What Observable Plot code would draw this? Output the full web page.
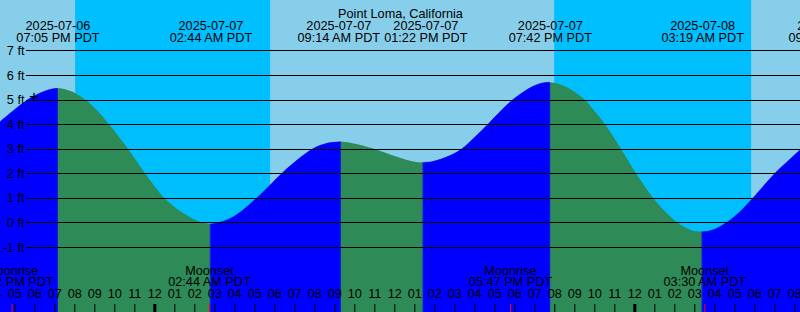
<!DOCTYPE html>
<html><head><meta charset="utf-8">
<script src="https://cdn.jsdelivr.net/npm/d3@7"></script>
<script src="https://cdn.jsdelivr.net/npm/@observablehq/plot@0.6"></script>
<style>html,body{margin:0;padding:0;background:#87ceeb;overflow:hidden}</style>
</head><body><div id="chart"></div>
<script>
// ---- data ----
const title = "Point Loma, California";
const chartStart = "2025-07-06T16:12:36";
const chartEnd = "2025-07-08T08:12:36";
const tideDay = "2025-07-07T00:00"; // tideHours are relative to this local midnight (PDT)
const tideHours = [-7.79, -7.09, -6.39, -5.69, -5.19, -4.917, -4.64, -4.04, -3.54, -2.94, -2.34, -1.39, -0.54, 0.36, 0.86, 1.36, 1.86, 2.21, 2.46, 2.733, 3.01, 3.86, 5.06, 6.31, 7.01, 7.86, 8.56, 8.91, 9.233, 9.56, 10.56, 11.41, 12.21, 12.81, 13.367, 13.86, 14.71, 15.31, 15.96, 16.61, 17.21, 17.86, 18.86, 19.36, 19.7, 20.01, 20.56, 21.36, 21.81, 22.46, 23.26, 24.01, 24.86, 25.46, 26.06, 26.71, 27.01, 27.317, 27.61, 28.01, 28.56, 29.21, 29.81, 30.96, 31.61, 32.21];
const tideFeet = [4.10, 4.57, 5.00, 5.30, 5.43, 5.46, 5.44, 5.27, 5.00, 4.57, 4.00, 3.00, 2.00, 1.05, 0.68, 0.38, 0.15, 0.03, -0.03, -0.07, -0.04, 0.22, 1.00, 2.00, 2.50, 3.00, 3.22, 3.26, 3.28, 3.26, 3.08, 2.86, 2.63, 2.49, 2.44, 2.48, 2.72, 3.00, 3.48, 4.00, 4.50, 5.00, 5.54, 5.68, 5.70, 5.67, 5.50, 5.05, 4.66, 4.00, 3.00, 2.00, 1.00, 0.45, 0.00, -0.30, -0.36, -0.38, -0.36, -0.26, 0.00, 0.43, 0.95, 2.00, 2.50, 2.95];
const tideEventTimes = ["2025-07-06T19:05", "2025-07-07T02:44", "2025-07-07T09:14", "2025-07-07T13:22", "2025-07-07T19:42", "2025-07-08T03:19", "2025-07-08T09:40"];
const nightStarts = ["2025-07-06T19:58", "2025-07-07T19:55"];
const nightEnds = ["2025-07-07T05:43", "2025-07-08T05:46"];
const moonEventNames = ["Moonrise", "Moonset", "Moonrise", "Moonset"];
const moonEventTimes = ["2025-07-06T16:52", "2025-07-07T02:44", "2025-07-07T17:47", "2025-07-08T03:30"];
const gridFeet = [-1, 0, 1, 2, 3, 4, 5, 6, 7];
const plusTime = "2025-07-06T17:53";
const plusFeet = 5.16;

// ---- build ----
const toDate = s => new Date(s + "Z");
const base = toDate(tideDay).getTime();
const tide = tideHours.map((h, i) => ({t: new Date(base + h * 3600e3), ft: tideFeet[i]}));
const rising = [];
let seg = -1, prevUp = false;
for (let i = 0; i < tide.length - 1; i++) {
  const up = tide[i + 1].ft > tide[i].ft;
  if (up) {
    if (!prevUp) { seg++; rising.push({...tide[i], seg}); }
    rising.push({...tide[i + 1], seg});
  }
  prevUp = up;
}
const nights = nightStarts.map((s, i) => ({start: toDate(s), end: toDate(nightEnds[i])}));
const x0 = toDate(chartStart), x1 = toDate(chartEnd);
const W = 800;
const xs = d3.scaleUtc([x0, x1], [0, W]);
// nudge tide labels apart where they would touch (label width ~86px)
const tideEvents = tideEventTimes.map(s => ({t: toDate(s), dx: 0}));
for (let i = 0; i < tideEvents.length - 1; i++) {
  const gap = xs(tideEvents[i + 1].t) - xs(tideEvents[i].t);
  if (gap < 87) { const s = (87 - gap) / 2; tideEvents[i].dx -= s; tideEvents[i + 1].dx += s; }
}
const moonEvents = moonEventTimes.map((s, i) => ({t: toDate(s), name: moonEventNames[i]}));
const hourTicks = d3.utcHour.range(new Date(x0.getTime() - 3600e3), new Date(x1.getTime() + 3600e3));
const midnights = hourTicks.filter(d => d.getUTCHours() === 0);
const otherHours = hourTicks.filter(d => d.getUTCHours() !== 0);
const fDate = d3.utcFormat("%Y-%m-%d");
const fTime = d => d3.utcFormat("%I:%M %p")(d) + " PDT";
const fHour = d3.utcFormat("%I");
const yMin = -3.65, yMax = 9.055;
const fs = 12.7;
const curve = "catmull-rom";

const labelMarks = tideEvents.flatMap(e => [
  Plot.text([e], {x: "t", text: d => fDate(d.t), frameAnchor: "top", dy: 20, dx: e.dx, fontSize: fs, fill: "black"}),
  Plot.text([e], {x: "t", text: d => fTime(d.t), frameAnchor: "top", dy: 32, dx: e.dx, fontSize: fs, fill: "black"})
]);

const chart = Plot.plot({
  width: W, height: 312, margin: 0,
  style: {background: "#87ceeb", fontFamily: "'Liberation Sans', Arial, sans-serif", fontSize: fs + "px"},
  x: {type: "utc", domain: [x0, x1], range: [0, W], axis: null},
  y: {domain: [yMin, yMax], range: [312, 0], axis: null},
  marks: [
    Plot.rect(nights, {x1: "start", x2: "end", y1: () => yMin, y2: () => yMax, fill: "#00bfff"}),
    Plot.areaY(tide, {x: "t", y1: () => yMin, y2: "ft", fill: "#2e8b57", curve}),
    Plot.areaY(rising, {x: "t", y1: () => yMin, y2: "ft", z: "seg", fill: "#0000ff", stroke: "#0000ff", strokeWidth: 0.5, curve}),
    Plot.ruleY(gridFeet, {y: d => d, insetLeft: 26, stroke: "black", shapeRendering: "crispEdges"}),
    Plot.text(gridFeet, {y: d => d, text: d => `${d} ft`, frameAnchor: "left", textAnchor: "end", dx: 24, fontSize: fs, fill: "black"}),
    Plot.text([{t: toDate(plusTime), ft: plusFeet}], {x: "t", y: "ft", text: () => "+", fontSize: 17, fill: "black"}),
    Plot.text([title], {text: d => d, frameAnchor: "top", dy: 8.3, fontSize: fs, fill: "black"}),
    ...labelMarks,
    Plot.ruleX(otherHours, {x: d => d, insetTop: 304, stroke: "black", dx: -1.5}),
    Plot.ruleX(midnights, {x: d => d, insetTop: 304, stroke: "black", strokeWidth: 3, dx: -1.5}),
    Plot.ruleX(moonEvents, {x: "t", insetTop: 304, stroke: "red", dx: -1.5}),
    Plot.text(hourTicks, {x: d => d, text: d => fHour(d), frameAnchor: "bottom", dy: -14.5, dx: -1.5, fontSize: fs, fill: "black"}),
    Plot.text(moonEvents, {x: "t", text: "name", frameAnchor: "bottom", dy: -37.7, dx: -1.5, fontSize: fs, fill: "black"}),
    Plot.text(moonEvents, {x: "t", text: d => fTime(d.t), frameAnchor: "bottom", dy: -26.5, dx: -1.5, fontSize: fs, fill: "black"})
  ]
});
document.getElementById("chart").appendChild(chart);
</script>
</body></html>
